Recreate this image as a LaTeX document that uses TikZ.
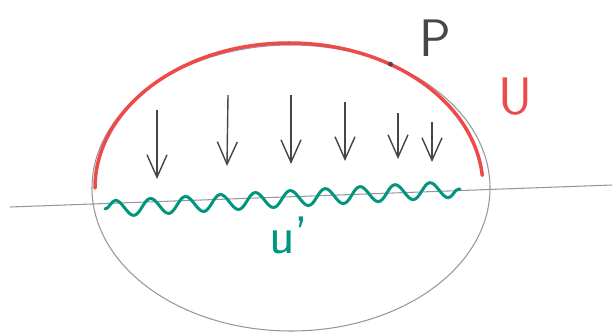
\documentclass[tikz,border=0pt]{standalone}
\usetikzlibrary{arrows.meta,decorations.pathmorphing,calc}
\definecolor{penred}{RGB}{238,74,74}
\definecolor{penteal}{RGB}{0,150,125}
\definecolor{pencil}{RGB}{150,150,158}
\definecolor{lead}{RGB}{70,70,75}
\begin{document}
\begin{tikzpicture}[>={Straight Barb[length=4.5mm,width=4mm]},
    thin line/.style={draw=pencil, line width=0.6pt},
    flow/.style={->, draw=lead, line width=0.8pt},
    every node/.style={font=\sffamily\fontsize{30}{36}\selectfont}]
  \useasboundingbox (0,0) rectangle (12.3,6.66);
  % Domain and boundary line
  \coordinate (c) at (5.82,2.90);
  \draw[thin line] (c) ellipse[x radius=3.98, y radius=2.86];
  \coordinate (lineL) at (0.2,2.52);
  \coordinate (lineR) at (12.24,2.96);
  \draw[thin line] (lineL) -- (lineR);
  % Upper part U
  \coordinate (redL) at (1.9,2.9);
  \draw[penred, line width=2pt, line cap=round] (redL) arc[start angle=180, end angle=5, x radius=3.88, y radius=2.9];
  \node[penred] (U) at (10.3,4.72) {U};
  % Point P
  \coordinate (pt) at ($(c)+(60:3.98 and 2.86)$);
  \fill[lead] (pt) circle (1.4pt);
  \node[lead] (P) at (8.7,5.9) {P};
  % Arrows down
  \coordinate (a1) at (3.14,4.46); \coordinate (b1) at (3.14,3.08);
  \coordinate (a2) at (4.56,4.76); \coordinate (b2) at (4.54,3.34);
  \coordinate (a3) at (5.82,4.76); \coordinate (b3) at (5.82,3.38);
  \coordinate (a4) at (6.90,4.62); \coordinate (b4) at (6.90,3.44);
  \coordinate (a5) at (7.96,4.40); \coordinate (b5) at (7.96,3.48);
  \coordinate (a6) at (8.64,4.22); \coordinate (b6) at (8.64,3.42);
  \draw[flow] (a1) -- (b1);
  \draw[flow] (a2) -- (b2);
  \draw[flow] (a3) -- (b3);
  \draw[flow] (a4) -- (b4);
  \draw[flow] (a5) -- (b5);
  \draw[flow] (a6) -- (b6);
  % Lower part u'
  \coordinate (wavL) at (2.1,2.48);
  \coordinate (wavR) at (9.2,2.88);
  \draw[penteal, line width=1.7pt, line cap=round, decorate,
    decoration={snake, segment length=7mm, amplitude=1.6mm}] (wavL) -- (wavR);
  \node[penteal] (uprime) at (5.78,1.95) {u'};
\end{tikzpicture}
\end{document}
